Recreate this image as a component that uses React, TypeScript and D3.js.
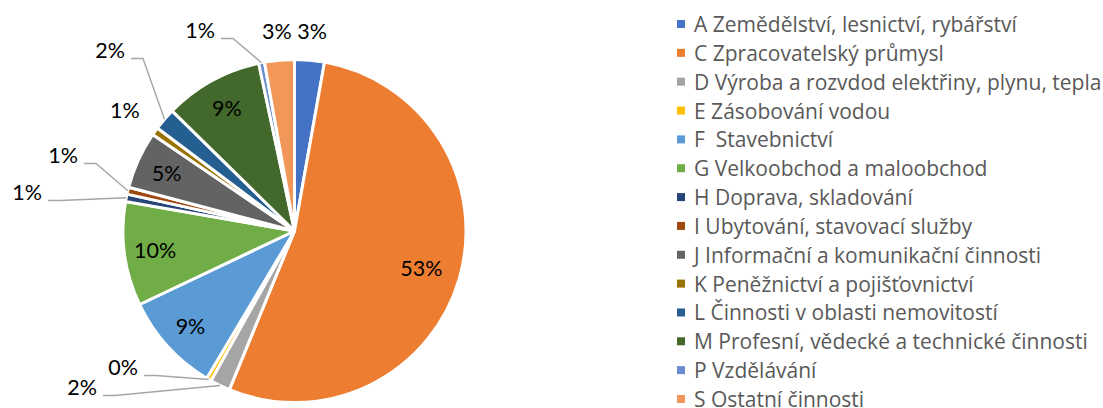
import React from "react";
import * as d3 from "d3";

// ---- data ----
const categories: string[] = [
  "A Zemědělství, lesnictví, rybářství",
  "C Zpracovatelský průmysl",
  "D Výroba a rozvdod elektřiny, plynu, tepla",
  "E Zásobování vodou",
  "F  Stavebnictví",
  "G Velkoobchod a maloobchod",
  "H Doprava, skladování",
  "I Ubytování, stavovací služby",
  "J Informační a komunikační činnosti",
  "K Peněžnictví a pojišťovnictví",
  "L Činnosti v oblasti nemovitostí",
  "M Profesní, vědecké a technické činnosti",
  "P Vzdělávání",
  "S Ostatní činnosti",
];
const codes: string[] = ["A", "C", "D", "E", "F", "G", "H", "I", "J", "K", "L", "M", "P", "S"];
const shares: number[] = [2.8, 53.4, 1.9, 0.45, 9.4, 9.8, 0.7, 0.65, 5.4, 0.75, 2.1, 9.3, 0.55, 2.8];
const colors: string[] = [
  "#4472C4", "#ED7D31", "#A5A5A5", "#FFC000", "#5B9BD5", "#70AD47", "#264478",
  "#9E480E", "#636363", "#997300", "#255E91", "#43682B", "#698ED0", "#F1975A",
];

// label placement (Excel best-fit result): "in" = inside, "out" = outside on the radius,
// or an explicit offset from the pie centre with a leader line
type Spot = "in" | "out" | [number, number];
const labelSpots: Record<string, Spot> = {
  A: "out", C: "in", D: [-212.5, 156], E: [-171.5, 136], F: "in", G: "in",
  H: [-267.5, -39], I: [-231.5, -76], J: "in", K: "out", L: [-184.5, -181],
  M: "in", P: [-94.5, -201], S: "out",
};

const W = 1103;
const H = 408;
const cx = 294.5;
const cy = 231;
const R = 171.5;

export default function App() {
  const pie = d3.pie<number>().sort(null).value((d) => d);
  const arcs = pie(shares);
  const arcGen = d3.arc<d3.PieArcDatum<number>>().innerRadius(0).outerRadius(R);
  const pct = (v: number) => `${Math.round(v)}%`;

  const legendY = d3.scaleLinear().domain([0, categories.length - 1]).range([24, 399]);

  const labelFont = "Lato, 'Open Sans', sans-serif";
  const legendFont = "'Open Sans', Lato, sans-serif";

  return (
    <div style={{ position: "absolute", left: 0, top: 0 }}>
      <svg width={W} height={H} style={{ display: "block", background: "#fff" }}>
        <g transform={`translate(${cx},${cy})`}>
          {arcs.map((a, i) => (
            <path key={i} d={arcGen(a) || ""} fill={colors[i]} stroke="#fff" strokeWidth={3} strokeLinejoin="round" />
          ))}
          {arcs.map((a, i) => {
            const code = codes[i];
            const spot = labelSpots[code];
            const mid = (a.startAngle + a.endAngle) / 2;
            const sx = Math.sin(mid);
            const sy = -Math.cos(mid);
            let lx: number;
            let ly: number;
            let leader: string | null = null;
            if (spot === "in") {
              const rr = code === "C" ? R * 0.77 : R * 0.82;
              lx = sx * rr;
              ly = sy * rr;
            } else if (spot === "out") {
              const rr = code === "K" ? R + 37 : R + 29;
              lx = sx * rr;
              ly = sy * rr;
            } else {
              lx = spot[0];
              ly = spot[1];
              const x0 = lx + 21;
              const y0 = ly + 8.5;
              const px = sx * R;
              const py = sy * R;
              leader = `M${x0},${y0}L${x0 + 12},${y0}L${px},${py}`;
            }
            return (
              <g key={`l${i}`}>
                {leader && <path d={leader} fill="none" stroke="#A6A6A6" strokeWidth={1.4} />}
                <text
                  x={lx}
                  y={ly}
                  textAnchor="middle"
                  dominantBaseline="central"
                  fontFamily={labelFont}
                  fontSize={21.5}
                  fill="#000"
                >
                  {pct(shares[i])}
                </text>
              </g>
            );
          })}
        </g>
        <g>
          {categories.map((c, i) => (
            <g key={c} transform={`translate(0,${legendY(i)})`}>
              <rect x={677} y={-4} width={8} height={8} fill={colors[i]} />
              <text
                x={694}
                y={0}
                dominantBaseline="central"
                fontFamily={legendFont}
                fontSize={21}
                fill="#595959"
                style={{ whiteSpace: "pre" }}
              >
                {c}
              </text>
            </g>
          ))}
        </g>
      </svg>
    </div>
  );
}
